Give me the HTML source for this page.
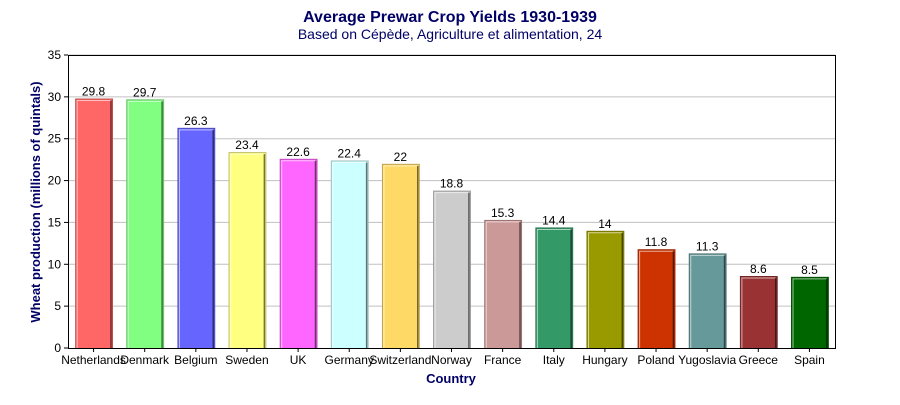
<!DOCTYPE html>
<html><head><meta charset="utf-8"><style>
body{margin:0;background:#fff;width:900px;height:400px;overflow:hidden;font-family:"Liberation Sans",sans-serif}
</style></head><body>
<svg id="chart" width="900" height="400" xmlns="http://www.w3.org/2000/svg" font-family="Liberation Sans, sans-serif">
<text x="450" y="22" text-anchor="middle" font-size="16" font-weight="bold" fill="#000066">Average Prewar Crop Yields 1930-1939</text>
<text x="450" y="39" text-anchor="middle" font-size="14" fill="#000066">Based on Cépède, Agriculture et alimentation, 24</text>
<text transform="translate(40,202) rotate(-90)" text-anchor="middle" font-size="13" font-weight="bold" fill="#000066">Wheat production (millions of quintals)</text>
<text x="451" y="383" text-anchor="middle" font-size="13" font-weight="bold" fill="#000066">Country</text>
<g id="grid"></g><g id="bars"></g><g id="axes"></g>
</svg>
<script>
const categories=["Netherlands","Denmark","Belgium","Sweden","UK","Germany","Switzerland","Norway","France","Italy","Hungary","Poland","Yugoslavia","Greece","Spain"];
const values=[29.8,29.7,26.3,23.4,22.6,22.4,22,18.8,15.3,14.4,14,11.8,11.3,8.6,8.5];
const valueLabels=["29.8","29.7","26.3","23.4","22.6","22.4","22","18.8","15.3","14.4","14","11.8","11.3","8.6","8.5"];
const colors=["#ff6666","#80ff80","#6666ff","#ffff80","#ff66ff","#ccffff","#ffd966","#cccccc","#cc9999","#339966","#999900","#cc3300","#669999","#993333","#006600"];
const yTicks=[0,5,10,15,20,25,30,35];
const L=68,R=835,T=55,B=348,yMax=35;
const NS="http://www.w3.org/2000/svg";
const y=v=>B-(v/yMax)*(B-T);
const band=(R-L)/categories.length;
const xc=i=>L+band*(i+0.5);
function mk(t,a,p){const e=document.createElementNS(NS,t);for(const k in a)e.setAttribute(k,a[k]);p.appendChild(e);return e;}
function dark(c,f){const n=parseInt(c.slice(1),16);const r=(n>>16)*f|0,g=((n>>8)&255)*f|0,b=(n&255)*f|0;return `rgb(${r},${g},${b})`;}
const grid=document.getElementById('grid'),bars=document.getElementById('bars'),axes=document.getElementById('axes');
yTicks.forEach(t=>{
  if(t>0){const g=mk('line',{x1:L,x2:R,y1:y(t),y2:y(t),stroke:'#c0c0c0','stroke-width':1},grid);
  
  }
  const tk=mk('line',{x1:L-4,x2:L,y1:y(t),y2:y(t),stroke:'#000'},axes);
  
  
  const lb=mk('text',{x:L-7,y:y(t)+4,'text-anchor':'end','font-size':12,fill:'#000'},axes);
  lb.textContent=t;
  
  
});
const bw=band*0.72;
categories.forEach((c,i)=>{
  const x0=xc(i)-bw/2,yt=y(values[i]);
  const r=mk('rect',{x:x0+0.5,y:yt+0.5,width:bw,height:B-yt,fill:colors[i],stroke:dark(colors[i],0.75),'stroke-width':1},bars);
  
  
  mk('polyline',{points:`${x0+2},${B} ${x0+2},${yt+2} ${x0+bw-1},${yt+2}`,fill:'none',stroke:'rgba(255,255,255,0.6)','stroke-width':1},bars);
  mk('line',{x1:x0+bw-1,x2:x0+bw-1,y1:yt+2,y2:B,stroke:'rgba(0,0,0,0.55)','stroke-width':1.5},bars);
  const vl=mk('text',{x:xc(i),y:yt-3,'text-anchor':'middle','font-size':12,fill:'#000'},bars);
  vl.textContent=valueLabels[i];
  
  
  const tk=mk('line',{x1:xc(i),x2:xc(i),y1:B,y2:B+4,stroke:'#000'},axes);
  
  
  const cl=mk('text',{x:xc(i),y:B+16,'text-anchor':'middle','font-size':12,fill:'#000'},axes);
  cl.textContent=c;
  
  
});
const fr=mk('rect',{x:L+0.5,y:T+0.5,width:R-L,height:B-T,fill:'none',stroke:'#000','stroke-width':1},axes);


</script>
</body></html>
